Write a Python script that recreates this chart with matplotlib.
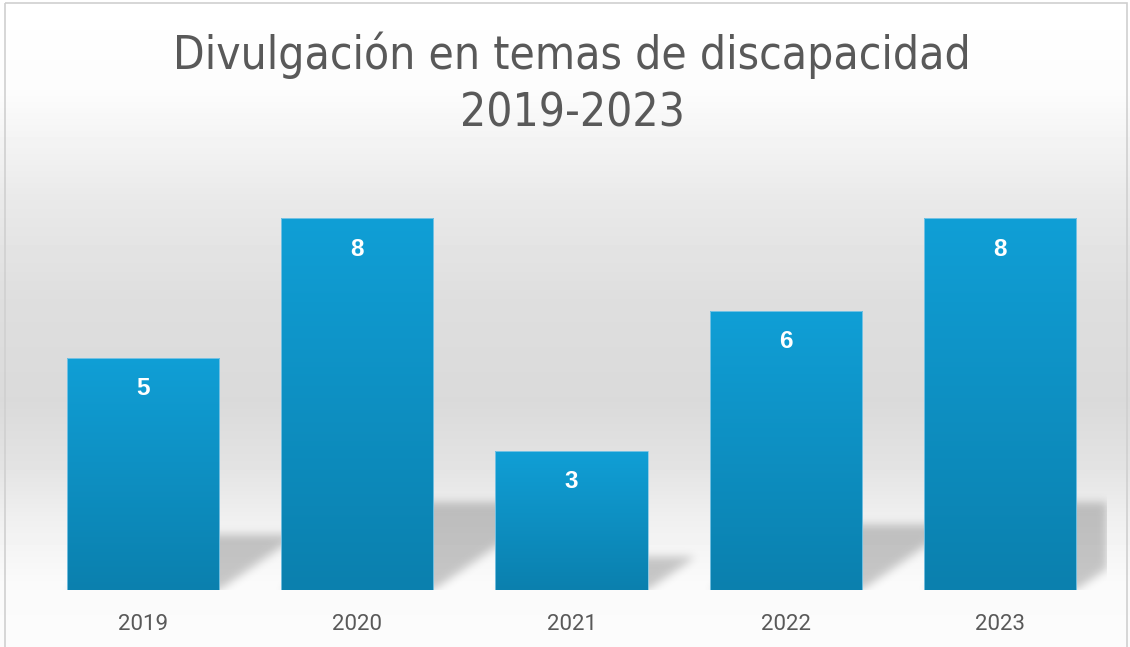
import numpy as np
import matplotlib.pyplot as plt
from matplotlib.patches import Rectangle
from matplotlib.colors import LinearSegmentedColormap

# chart data
years = ['2019', '2020', '2021', '2022', '2023']
counts = [5, 8, 3, 6, 8]
title_line1 = 'Divulgación en temas de discapacidad'
title_line2 = '2019-2023'

W, H = 1130, 647
fig = plt.figure(figsize=(W / 100, H / 100), dpi=100)

# background gradient (white - grey - white), like the Excel chart area
bg = fig.add_axes([0, 0, 1, 1], zorder=-2)
stops_y = [0, 90, 200, 300, 400, 460, 520, 580, 647]
stops_v = [255, 252, 233, 222, 218, 226, 240, 250, 252]
col = np.interp(np.arange(H), stops_y, stops_v) / 255.0
bg.imshow(col[:, None], cmap='gray', vmin=0, vmax=1, aspect='auto',
          extent=[0, W, H, 0])
bg.set_xlim(0, W)
bg.set_ylim(H, 0)
bg.axis('off')
bg.add_patch(Rectangle((5, 3), W - 8, H + 10, fill=False, ec='#d0d0d0', lw=1.2))

# plot area
left, right, bottom, top = 36, 1107, 590, 172
ax = fig.add_axes([left / W, 1 - bottom / H, (right - left) / W, (bottom - top) / H])
ax.patch.set_alpha(0)
x = np.arange(len(years))
width = 0.71
ymax = 9
px_x = (right - left) / len(years)   # pixels per x unit
px_y = (bottom - top) / ymax         # pixels per y unit


def blur1d(a, sigma, axis):
    k = np.arange(-3 * int(sigma) - 1, 3 * int(sigma) + 2)
    ker = np.exp(-k ** 2 / (2 * sigma ** 2))
    ker /= ker.sum()
    return np.apply_along_axis(lambda r: np.convolve(r, ker, mode='same'), axis, a)


# soft perspective shadows behind the bars (rendered on a pixel grid)
sh_top = 3.0
nx = right - left
ny = int(sh_top * px_y)
gx = (np.arange(nx) + 0.5) / px_x - 0.5
gy = (np.arange(ny) + 0.5) / px_y
GX, GY = np.meshgrid(gx, gy)
mask = np.zeros_like(GX)
for xi, v in zip(x, counts):
    hs = 0.235 * v
    dx = 1.45 * hs * px_y / px_x
    x0, x1 = xi - width / 2, xi + width / 2
    t = GY / hs
    inside = (GY <= hs) & (GX >= x0 + t * dx) & (GX <= x1 + t * dx)
    mask = np.maximum(mask, inside.astype(float))
mask = blur1d(blur1d(mask, 4.5, 0), 4.5, 1)
shadow = np.zeros((ny, nx, 4))
shadow[..., 3] = 0.21 * mask
ax.imshow(shadow, origin='lower', aspect='auto', interpolation='bilinear',
          extent=[-0.5, len(years) - 0.5, 0, sh_top], zorder=1)

bar_cmap = LinearSegmentedColormap.from_list('bar', ['#0b80ae', '#109fd6'])
grad = np.linspace(0, 1, 256)[:, None]

bars = ax.bar(x, counts, width=width, color='none', edgecolor='#86c8e6',
              linewidth=0.6, zorder=3)
for b, v in zip(bars, counts):
    bx = b.get_x()
    im = ax.imshow(grad, cmap=bar_cmap, aspect='auto', origin='lower',
                   extent=[bx, bx + b.get_width(), 0, v], zorder=2.5)
    im.set_clip_path(b)
    ax.text(b.get_x() + b.get_width() / 2, v - 0.66, str(v), ha='center',
            va='center', color='white', fontsize=17.5, fontweight='bold',
            family='Liberation Sans', zorder=4)

ax.set_xlim(-0.5, len(years) - 0.5)
ax.set_ylim(0, ymax)
ax.set_xticks(x)
ax.set_xticklabels(years, fontsize=16, color='#595959', family='Roboto')
ax.tick_params(axis='x', length=0, pad=17)
ax.set_yticks([])
for sp in ax.spines.values():
    sp.set_visible(False)

tfont = dict(fontsize=33, color='#595959', family='DejaVu Sans',
             fontstretch='condensed', ha='center', va='center')
fig.text(572 / W, 1 - 55 / H, title_line1, **tfont)
fig.text(572 / W, 1 - 114 / H, title_line2, **tfont)

fig.savefig('out.png', dpi=100)
